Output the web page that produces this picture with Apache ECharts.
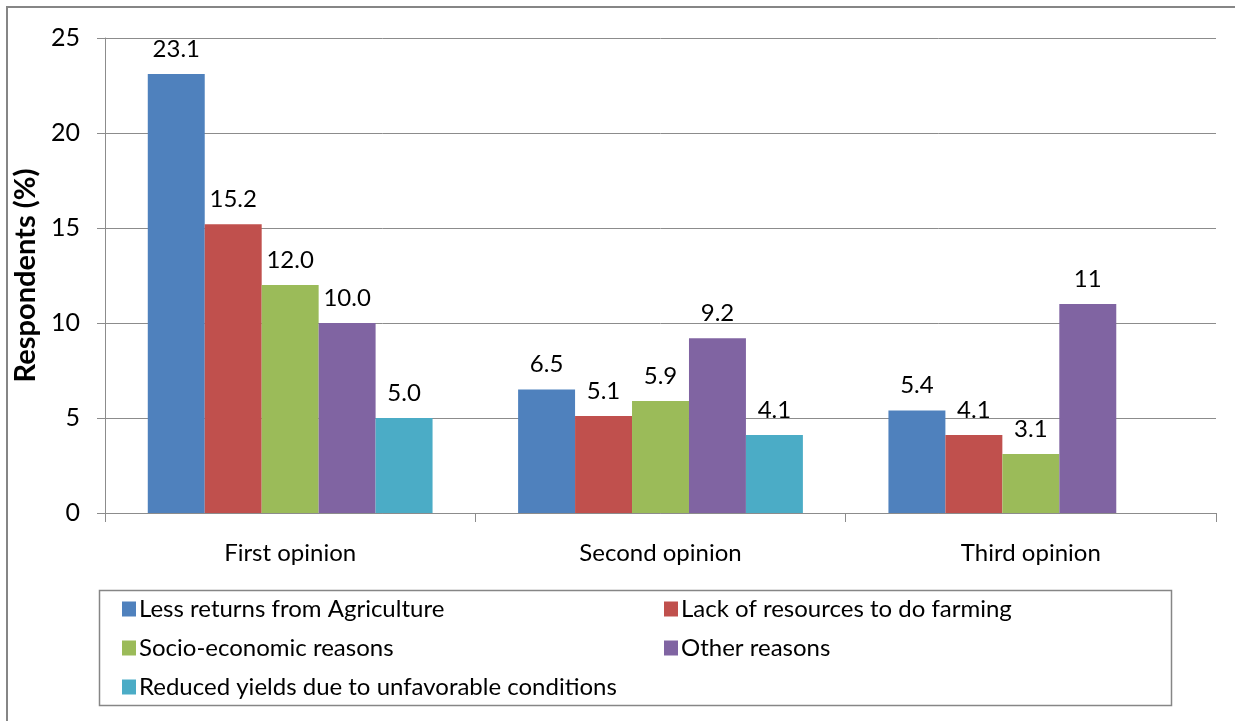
<!DOCTYPE html>
<html>
<head>
<meta charset="utf-8">
<script src="https://cdn.jsdelivr.net/npm/echarts@6/dist/echarts.min.js"></script>
<style>
  html, body { margin: 0; padding: 0; background: #fff; }
  #chart { width: 1235px; height: 721px; }
</style>
</head>
<body>
<div id="chart"></div>
<script>
const categories = ['First opinion', 'Second opinion', 'Third opinion'];
const seriesNames = [
  'Less returns from Agriculture',
  'Lack of resources to do farming',
  'Socio-economic reasons',
  'Other reasons',
  'Reduced yields due to unfavorable conditions'
];
const lessReturns = [23.1, 6.5, 5.4];
const lackResources = [15.2, 5.1, 4.1];
const socioEconomic = [12.0, 5.9, 3.1];
const otherReasons = [10.0, 9.2, 11];
const reducedYields = [5.0, 4.1, null];
// decimals shown in each data label (the source prints "11" without a decimal)
const labelDigits = [[1, 1, 1], [1, 1, 1], [1, 1, 1], [1, 1, 0], [1, 1, 1]];
const colors = ['#4F81BD', '#C0504D', '#9BBB59', '#8064A2', '#4BACC6'];
const yTicks = { min: 0, max: 25, interval: 5 };

const allValues = [lessReturns, lackResources, socioEconomic, otherReasons, reducedYields];
const font = 'Lato';
const gray = '#8c8c8c';

const chart = echarts.init(document.getElementById('chart'));

const series = allValues.map((vals, i) => ({
  name: seriesNames[i],
  type: 'bar',
  data: vals,
  barGap: 0,
  barCategoryGap: '23.1%',
  itemStyle: { color: colors[i] },
  label: {
    show: true,
    position: 'top',
    distance: 13,
    fontFamily: font,
    fontSize: 24,
    color: '#000',
    formatter: p => p.value == null ? '' : Number(p.value).toFixed(labelDigits[i][p.dataIndex])
  }
}));

const legendText = { fontFamily: font, fontSize: 24, lineHeight: 24, color: '#000', padding: [0, 0, 0, -2] };

const option = {
  animation: false,
  grid: { left: 105, right: 19, top: 38, bottom: 208, containLabel: false },
  xAxis: {
    type: 'category',
    data: categories,
    axisLine: { lineStyle: { color: gray } },
    axisTick: { show: true, length: 9, lineStyle: { color: gray } },
    axisLabel: { fontFamily: font, fontSize: 24, color: '#000', margin: 28 }
  },
  yAxis: {
    type: 'value',
    min: yTicks.min,
    max: yTicks.max,
    interval: yTicks.interval,
    name: 'Respondents (%)',
    nameLocation: 'middle',
    nameGap: 60,
    nameTextStyle: { fontFamily: font, fontSize: 29, fontWeight: 'bold', color: '#000' },
    axisLine: { show: true, lineStyle: { color: gray } },
    axisTick: { show: true, length: 8, lineStyle: { color: gray } },
    axisLabel: { fontFamily: font, fontSize: 25, color: '#000', margin: 25 },
    splitLine: { lineStyle: { color: gray } }
  },
  legend: [
    {
      data: [seriesNames[0], seriesNames[2], seriesNames[4]],
      orient: 'vertical',
      left: 117, top: 592,
      itemWidth: 14, itemHeight: 15, itemGap: 15,
      icon: 'rect',
      textStyle: legendText
    },
    {
      data: [seriesNames[1], seriesNames[3]],
      orient: 'vertical',
      left: 659, top: 592,
      itemWidth: 14, itemHeight: 15, itemGap: 15,
      icon: 'rect',
      textStyle: legendText
    }
  ],
  graphic: [
    { type: 'rect', shape: { x: 7, y: 7, width: 1240, height: 730 },
      style: { fill: 'none', stroke: '#868686', lineWidth: 2 }, silent: true },
    { type: 'rect', shape: { x: 99.5, y: 590.5, width: 1072, height: 115 },
      style: { fill: 'none', stroke: '#868686', lineWidth: 1.5 }, silent: true }
  ],
  series: series
};

chart.setOption(option);
</script>
</body>
</html>
